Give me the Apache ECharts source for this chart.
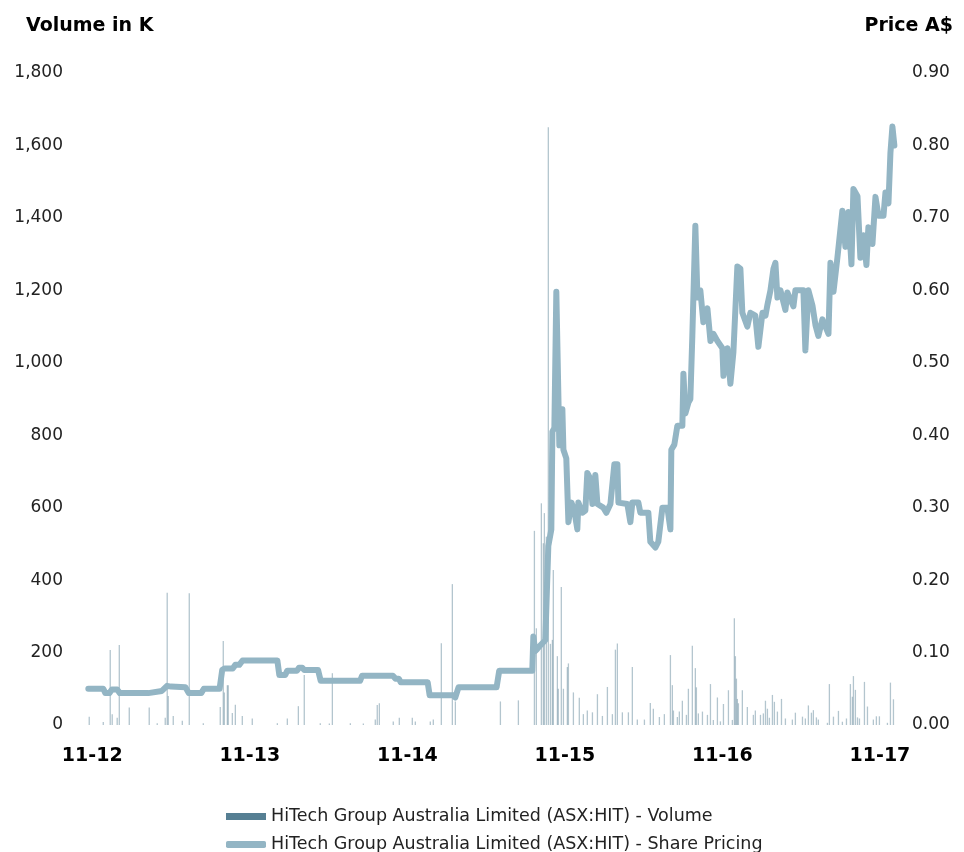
<!DOCTYPE html>
<html>
<head>
<meta charset="utf-8">
<script src="https://cdn.jsdelivr.net/npm/echarts@6/dist/echarts.min.js"></script>
<style>
    html,body{margin:0;padding:0;background:#fff;}
    #chart{width:964px;height:852px;}
</style>
</head>
<body>
<div id="chart"></div>
<script>
    // x = months since Nov 2012
    var tickLabels = ['11-12', '11-13', '11-14', '11-15', '11-16', '11-17'];
    var volumeName = 'HiTech Group Australia Limited (ASX:HIT) - Volume';
    var priceName = 'HiTech Group Australia Limited (ASX:HIT) - Share Pricing';

    // share price A$ : [month, price]
    var priceData = [
        [-0.3,0.05],[0.84,0.05],[1.0,0.044],[1.3,0.044],[1.5,0.049],[1.9,0.049],[2.1,0.044],[4.27,0.044],
        [4.42,0.046],[5.3,0.047],[5.7,0.054],[6.0,0.053],[7.1,0.052],[7.35,0.044],[8.3,0.044],[8.5,0.05],
        [9.7,0.05],[9.9,0.076],[10.1,0.078],[10.7,0.078],[10.9,0.083],[11.2,0.083],[11.45,0.089],[14.1,0.089],
        [14.25,0.069],[14.7,0.069],[14.85,0.075],[15.6,0.075],[15.75,0.079],[16.0,0.079],[16.15,0.076],[17.2,0.076],
        [17.4,0.061],[20.4,0.061],[20.55,0.068],[22.9,0.068],[23.1,0.064],[23.35,0.064],[23.5,0.059],[25.55,0.059],
        [25.7,0.041],[27.5,0.041],[27.65,0.038],[27.75,0.038],[27.9,0.052],[30.8,0.052],[31.0,0.075],[33.52,0.075],
        [33.6,0.122],[33.75,0.102],[33.9,0.105],[34.13,0.11],[34.51,0.117],[34.74,0.247],[34.97,0.27],[35.05,0.405],
        [35.2,0.41],[35.35,0.598],[35.5,0.598],[35.58,0.386],[35.81,0.436],[35.89,0.38],[36.11,0.368],[36.27,0.28],
        [36.5,0.307],[36.72,0.296],[36.95,0.27],[37.03,0.307],[37.33,0.293],[37.56,0.296],[37.71,0.348],[37.94,0.34],
        [38.1,0.305],[38.32,0.345],[38.48,0.305],[38.93,0.3],[39.16,0.293],[39.47,0.305],[39.77,0.36],[40.0,0.36],
        [40.08,0.307],[40.76,0.305],[40.99,0.28],[41.14,0.307],[41.6,0.307],[41.75,0.293],[42.36,0.293],[42.51,0.253],
        [42.9,0.245],[43.12,0.253],[43.43,0.3],[43.81,0.3],[44.04,0.27],[44.11,0.38],[44.34,0.387],[44.57,0.413],
        [44.95,0.413],[45.03,0.485],[45.18,0.43],[45.41,0.445],[45.56,0.45],[45.71,0.537],[45.94,0.689],[46.1,0.59],
        [46.32,0.6],[46.55,0.556],[46.86,0.575],[47.09,0.53],[47.31,0.54],[47.62,0.53],[48.0,0.52],[48.08,0.482],
        [48.38,0.52],[48.61,0.471],[48.84,0.515],[49.14,0.633],[49.37,0.63],[49.52,0.569],[49.9,0.55],[50.13,0.569],
        [50.51,0.565],[50.74,0.522],[51.05,0.569],[51.28,0.565],[51.43,0.58],[51.66,0.6],[51.89,0.63],[52.04,0.638],
        [52.19,0.59],[52.42,0.6],[52.8,0.573],[52.95,0.597],[53.41,0.578],[53.56,0.6],[54.17,0.6],[54.32,0.517],
        [54.55,0.6],[54.86,0.579],[55.09,0.552],[55.31,0.537],[55.62,0.56],[56.08,0.54],[56.23,0.638],[56.46,0.598],
        [56.76,0.645],[57.14,0.71],[57.37,0.66],[57.6,0.708],[57.83,0.636],[57.98,0.74],[58.29,0.73],[58.51,0.645],
        [58.74,0.676],[58.97,0.635],[59.12,0.687],[59.43,0.664],[59.66,0.729],[59.89,0.703],[60.27,0.703],[60.42,0.735],
        [60.65,0.72],[60.8,0.79],[60.95,0.826],[61.1,0.80]
    ];

    // volume in K : [month, volume]
    var volumeData = [
        [-0.23,23],[0.84,8],[1.37,207],[1.52,30],[1.9,20],[2.06,221],[2.82,48],[4.34,48],[4.95,5],[5.56,20],
        [5.71,365],[5.79,80],[6.17,25],[6.86,12],[7.39,364],[8.46,5],[9.75,50],[9.98,232],[10.06,90],[10.29,110],
        [10.36,110],[10.67,33],[10.9,56],[11.43,25],[12.19,18],[14.1,5],[14.86,18],[15.7,52],[16.15,138],[17.37,5],
        [18.06,4],[18.29,143],[19.66,5],[20.65,4],[21.56,15],[21.71,55],[21.87,60],[22.93,10],[23.39,20],[24.38,20],
        [24.61,10],[25.75,10],[25.98,15],[26.59,226],[27.43,389],[27.66,65],[31.09,65],[32.46,68],
        [33.68,536],[33.83,267],[34.21,612],[34.36,502],[34.44,585],[34.59,520],[34.74,1650],[34.9,224],[35.05,235],
        [35.12,428],[35.43,190],[35.5,100],[35.73,381],[35.89,100],[36.19,160],[36.27,170],[36.65,90],[37.1,75],
        [37.41,30],[37.71,40],[38.1,35],[38.48,85],[38.86,25],[39.24,105],[39.62,30],[39.85,208],[40.0,225],
        [40.38,35],[40.84,35],[41.14,160],[41.52,15],[42.06,15],[42.51,61],[42.74,45],[43.2,22],[43.58,30],
        [44.04,193],[44.19,110],[44.27,40],[44.57,22],[44.72,37],[44.95,67],[45.26,28],[45.41,100],[45.71,219],
        [45.94,157],[46.02,104],[46.17,32],[46.48,37],[46.86,28],[47.09,113],[47.31,14],[47.62,76],[47.85,10],
        [48.08,58],[48.46,96],[48.76,14],[48.91,295],[48.99,190],[49.07,128],[49.14,72],[49.22,60],[49.52,96],
        [49.9,50],[50.36,28],[50.51,40],[50.9,28],[51.12,32],[51.28,67],[51.43,45],[51.58,20],[51.81,83],
        [51.96,64],[52.19,37],[52.5,72],[52.8,18],[53.33,15],[53.56,34],[54.1,23],[54.32,18],[54.55,54],
        [54.78,34],[54.93,41],[55.16,21],[55.31,15],[56.0,6],[56.15,113],[56.46,23],[56.84,39],[57.14,9],
        [57.45,18],[57.75,113],[57.9,78],[57.98,135],[58.13,97],[58.29,21],[58.44,18],[58.82,119],[59.05,51],
        [59.5,15],[59.73,24],[59.96,24],[60.57,6],[60.8,117],[61.03,71]
    ];

    var myChart = echarts.init(document.getElementById('chart'));

    var option = {
        animation: false,
        textStyle: {fontFamily: '"DejaVu Sans", sans-serif'},
        title: [
            {text: 'Volume in K', left: 21, top: 12, textStyle: {fontSize: 19, fontWeight: 'bold', color: '#000'}},
            {text: 'Price A$', right: 6, top: 12, textStyle: {fontSize: 19, fontWeight: 'bold', color: '#000'}}
        ],
        grid: {left: 87, right: 67, top: 73, bottom: 127},
        legend: {
            orient: 'vertical',
            left: 221,
            top: 801,
            height: 51,
            itemGap: 7,
            itemWidth: 40,
            itemHeight: 7,
            textStyle: {fontSize: 17.5, color: '#222', lineHeight: 21},
            data: [
                {name: volumeName, icon: 'rect', itemStyle: {color: '#567f93', opacity: 1}},
                {name: priceName, icon: 'roundRect', itemStyle: {color: '#93b5c4'}}
            ]
        },
        xAxis: {
            type: 'value',
            min: -0.4,
            max: 61.3,
            axisLine: {show: false},
            axisTick: {show: false},
            splitLine: {show: false},
            axisLabel: {
                fontSize: 19,
                fontWeight: 'bold',
                color: '#000',
                margin: 22,
                customValues: [0, 12, 24, 36, 48, 60],
                formatter: function (v) { return tickLabels[Math.round(v / 12)] || ''; }
            }
        },
        yAxis: [
            {
                type: 'value',
                min: 0,
                max: 1800,
                interval: 200,
                axisLine: {show: false},
                axisTick: {show: false},
                splitLine: {show: false},
                axisLabel: {
                    fontSize: 17, color: '#222', margin: 24,
                    formatter: function (v) { return v.toLocaleString('en-US'); }
                }
            },
            {
                type: 'value',
                min: 0,
                max: 0.9,
                interval: 0.1,
                axisLine: {show: false},
                axisTick: {show: false},
                splitLine: {show: false},
                axisLabel: {
                    fontSize: 17, color: '#222', margin: 15,
                    formatter: function (v) { return v.toFixed(2); }
                }
            }
        ],
        series: [
            {
                name: volumeName,
                type: 'bar',
                yAxisIndex: 0,
                barWidth: 1.3,
                itemStyle: {color: '#567f93', opacity: 0.45},
                data: volumeData
            },
            {
                name: priceName,
                type: 'line',
                yAxisIndex: 1,
                symbol: 'none',
                lineStyle: {color: '#93b5c4', width: 6, cap: 'round', join: 'round'},
                itemStyle: {color: '#93b5c4'},
                data: priceData
            }
        ]
    };
    myChart.setOption(option);
</script>
</body>
</html>
